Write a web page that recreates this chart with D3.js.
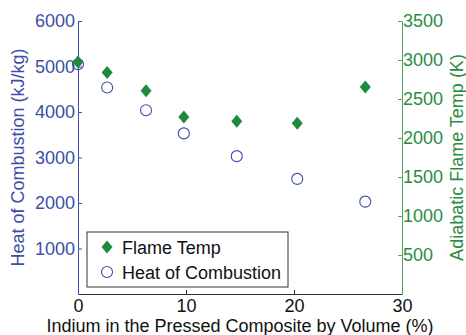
<!DOCTYPE html>
<html>
<head>
<meta charset="utf-8">
<script src="https://cdn.jsdelivr.net/npm/d3@7"></script>
<style>
  body { margin: 0; background: #fff; }
  svg { display: block; font-family: "Liberation Sans", Arial, sans-serif; }
</style>
</head>
<body>
<div id="chart"></div>
<script>
// Data
const indium = [0, 2.7, 6.3, 9.8, 14.7, 20.3, 26.6];
const heatOfCombustion = [5050, 4540, 4040, 3530, 3030, 2530, 2030];
const flameTemp = [2975, 2840, 2605, 2270, 2215, 2190, 2655];
const xTicks = [0, 10, 20, 30];
const leftTicks = [1000, 2000, 3000, 4000, 5000, 6000];
const rightTicks = [500, 1000, 1500, 2000, 2500, 3000, 3500];

const width = 466, height = 335;
const margin = { top: 21, right: 64, bottom: 41, left: 78 };
const blue = '#3c4ea8';
const green = '#1e8a3c';
const greenText = '#2a8c42';
const fmt = d3.format('d');

const svg = d3.select('#chart').append('svg')
  .attr('width', width)
  .attr('height', height);

const x = d3.scaleLinear().domain([0, 30]).range([margin.left, width - margin.right]);
const yL = d3.scaleLinear().domain([0, 6000]).range([height - margin.bottom, margin.top]);
const yR = d3.scaleLinear().domain([0, 3500]).range([height - margin.bottom, margin.top]);

// bottom axis
const xAxis = svg.append('g')
  .attr('transform', `translate(0,${height - margin.bottom})`)
  .call(d3.axisBottom(x).tickValues(xTicks).tickFormat(fmt).tickSizeInner(-4).tickSizeOuter(0).tickPadding(5));
xAxis.select('.domain').attr('stroke', '#333');
xAxis.selectAll('.tick line').attr('stroke', '#333');
xAxis.selectAll('.tick text').style('font-size', '18px').attr('fill', '#111');

// left axis
const lAxis = svg.append('g')
  .attr('transform', `translate(${margin.left},0)`)
  .call(d3.axisLeft(yL).tickValues(leftTicks).tickFormat(fmt).tickSizeInner(-4).tickSizeOuter(0).tickPadding(3));
lAxis.select('.domain').attr('stroke', blue);
lAxis.selectAll('.tick line').attr('stroke', blue);
lAxis.selectAll('.tick text').style('font-size', '18px').attr('fill', blue);

// right axis
const rAxis = svg.append('g')
  .attr('transform', `translate(${width - margin.right},0)`)
  .call(d3.axisRight(yR).tickValues(rightTicks).tickFormat(fmt).tickSizeInner(-4).tickSizeOuter(0).tickPadding(1));
rAxis.select('.domain').attr('stroke', '#4aa864');
rAxis.selectAll('.tick line').attr('stroke', '#4aa864');
rAxis.selectAll('.tick text').style('font-size', '18px').attr('fill', greenText);

// axis titles
svg.append('text')
  .attr('transform', `translate(24,${(margin.top + height - margin.bottom) / 2}) rotate(-90)`)
  .attr('text-anchor', 'middle')
  .style('font-size', '18px')
  .attr('fill', blue)
  .text('Heat of Combustion (kJ/kg)');

svg.append('text')
  .attr('transform', `translate(463,${(margin.top + height - margin.bottom) / 2}) rotate(-90)`)
  .attr('text-anchor', 'middle')
  .style('font-size', '18px')
  .attr('fill', greenText)
  .text('Adiabatic Flame Temp (K)');

svg.append('text')
  .attr('x', 240)
  .attr('y', 332)
  .attr('text-anchor', 'middle')
  .style('font-size', '18px')
  .attr('fill', '#111')
  .text('Indium in the Pressed Composite by Volume (%)');

// diamond marker: half width 5.5, half height 6.5
const diamondType = {
  draw(ctx) {
    ctx.moveTo(0, -6.5);
    ctx.lineTo(5.5, 0);
    ctx.lineTo(0, 6.5);
    ctx.lineTo(-5.5, 0);
    ctx.closePath();
  }
};
const diamond = d3.symbol().type(diamondType);

// markers
svg.append('g').selectAll('circle')
  .data(indium.map((v, i) => [v, heatOfCombustion[i]]))
  .join('circle')
  .attr('cx', d => x(d[0]))
  .attr('cy', d => yL(d[1]))
  .attr('r', 5.5)
  .attr('fill', 'none')
  .attr('stroke', blue)
  .attr('stroke-width', 1.1);

svg.append('g').selectAll('path')
  .data(indium.map((v, i) => [v, flameTemp[i]]))
  .join('path')
  .attr('d', diamond)
  .attr('transform', d => `translate(${x(d[0])},${yR(d[1])})`)
  .attr('fill', green);

// legend
const legend = svg.append('g').attr('transform', 'translate(87,232)');
legend.append('rect')
  .attr('width', 201).attr('height', 55)
  .attr('fill', '#fff').attr('stroke', '#333').attr('stroke-width', 1);
legend.append('path')
  .attr('d', diamond)
  .attr('transform', 'translate(20,15)')
  .attr('fill', green);
legend.append('circle')
  .attr('cx', 20).attr('cy', 40).attr('r', 5.5)
  .attr('fill', 'none').attr('stroke', blue).attr('stroke-width', 1.1);
legend.append('text').attr('x', 35).attr('y', 21.5)
  .style('font-size', '18px').attr('fill', '#111').text('Flame Temp');
legend.append('text').attr('x', 35).attr('y', 46.5)
  .style('font-size', '18px').attr('fill', '#111').text('Heat of Combustion');
</script>
</body>
</html>
